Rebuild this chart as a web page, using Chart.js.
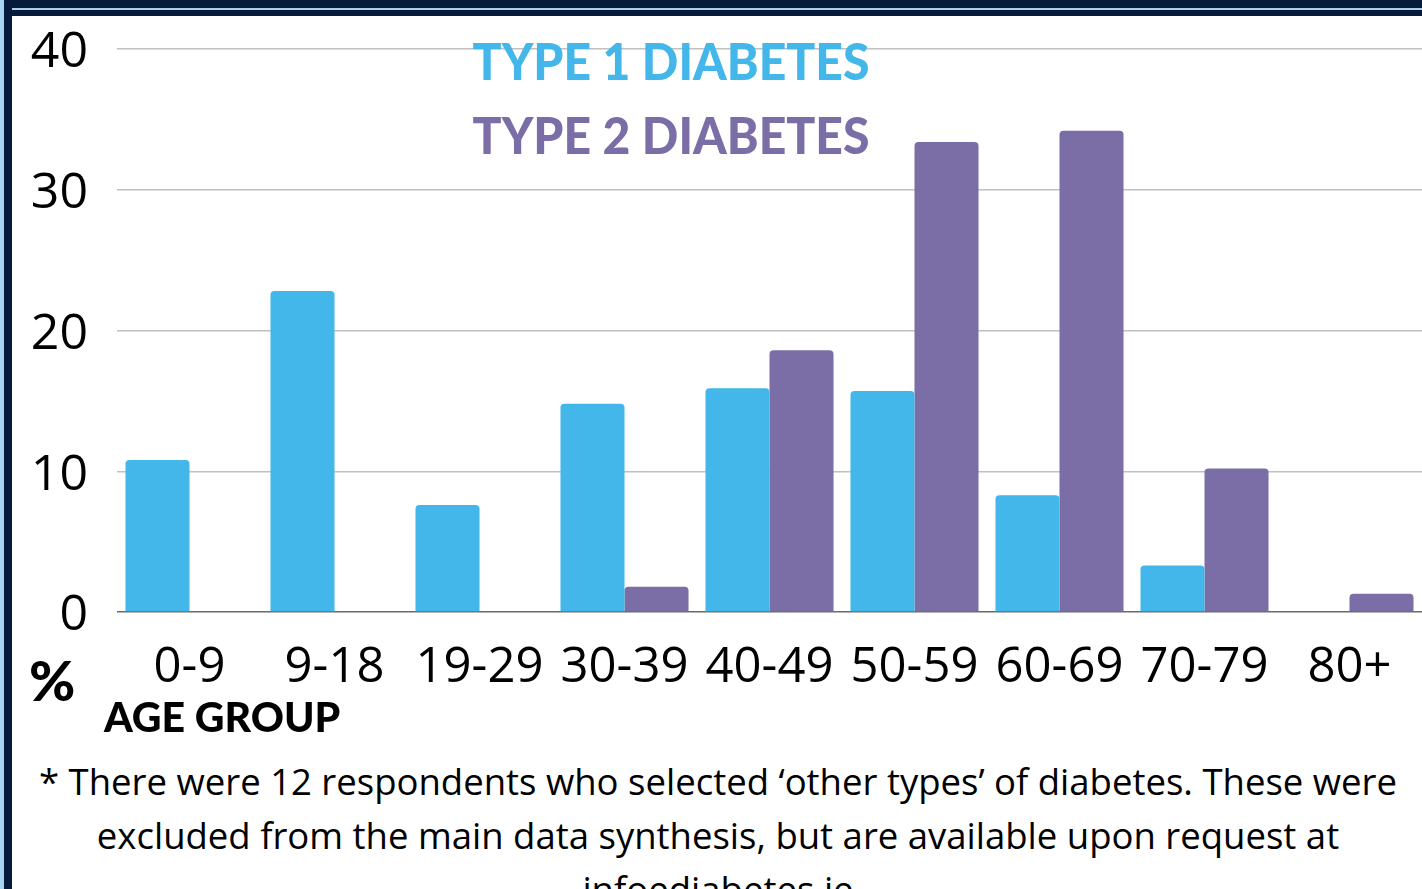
<!DOCTYPE html>
<html>
<head>
<meta charset="utf-8">
<script src="https://cdn.jsdelivr.net/npm/chart.js@4/dist/chart.umd.min.js"></script>
<style>
    html, body { margin: 0; padding: 0; background: #ffffff; }
    body { width: 1422px; height: 889px; position: relative; overflow: hidden; font-family: "Open Sans", sans-serif; }
    .frameTop { position: absolute; left: 0; top: 0; width: 1422px; height: 16px; background: #061a3b; }
    .frameTop .line { position: absolute; left: 0; top: 8px; width: 100%; height: 2px; background: #a9cdea; }
    .frameLeft { position: absolute; left: 0; top: 0; width: 12px; height: 889px; background: #061a3b; }
    .frameLeft .strip { position: absolute; left: 0; top: 0; width: 4px; height: 100%; background: #a8d3f1; }
    #chartBox { position: absolute; left: 0; top: 0; width: 1422px; height: 720px; }
    .legendText { position: absolute; left: 371px; width: 600px; text-align: center; font-family: "Lato", sans-serif; font-weight: 900; font-size: 51px; line-height: 51px; white-space: nowrap; transform: scaleX(0.943); transform-origin: center; }
    #type1 { top: 35px; color: #43b7e9; }
    #type2 { top: 109px; color: #7b6ea6; }
    #pct { position: absolute; left: 29px; top: 652px; font-family: "Lato", sans-serif; font-weight: 900; font-size: 56px; line-height: 56px; color: #000; }
    #axisTitle { position: absolute; left: 104px; top: 696px; font-family: "Lato", sans-serif; font-weight: 900; font-size: 41px; line-height: 41px; color: #000; white-space: nowrap; }
    #note { position: absolute; left: 14px; width: 1408px; top: 754px; text-align: center; font-family: "Open Sans", sans-serif; font-size: 36.5px; line-height: 54px; color: #000; white-space: nowrap; }
</style>
</head>
<body>
<div class="frameTop"><div class="line"></div></div>
<div class="frameLeft"><div class="strip"></div></div>
<div id="chartBox"><canvas id="ageChart"></canvas></div>
<div class="legendText" id="type1">TYPE 1 DIABETES</div>
<div class="legendText" id="type2">TYPE 2 DIABETES</div>
<div id="pct">%</div>
<div id="axisTitle">AGE GROUP</div>
<div id="note">* There were 12 respondents who selected ‘other types’ of diabetes. These were<br>excluded from the main data synthesis, but are available upon request at<br>infoediabetes.ie</div>

<script>
    const ageGroups = ["0-9", "9-18", "19-29", "30-39", "40-49", "50-59", "60-69", "70-79", "80+"];
    const type1Values = [10.8, 22.8, 7.6, 14.8, 15.9, 15.7, 8.3, 3.3, 0];
    const type2Values = [0, 0, 0, 1.8, 18.6, 33.4, 34.2, 10.2, 1.3];
    const yTicks = [0, 10, 20, 30, 40];

    const ctx = document.getElementById("ageChart").getContext("2d");
    window.ageChart = new Chart(ctx, {
        type: "bar",
        data: {
            labels: ageGroups,
            datasets: [
                {
                    label: "Type 1 Diabetes",
                    data: type1Values,
                    backgroundColor: "#43b7e9",
                    borderRadius: 4
                },
                {
                    label: "Type 2 Diabetes",
                    data: type2Values,
                    backgroundColor: "#7b6ea6",
                    borderRadius: 4
                }
            ]
        },
        options: {
            responsive: true,
            maintainAspectRatio: false,
            animation: false,
            layout: {
                padding: { top: 49, right: 0, bottom: 28, left: 0 }
            },
            datasets: {
                bar: {
                    categoryPercentage: 0.883,
                    barPercentage: 1.0
                }
            },
            plugins: {
                legend: { display: false },
                title: { display: false },
                tooltip: { enabled: false }
            },
            scales: {
                x: {
                    grid: { display: false, drawTicks: false },
                    border: { display: false },
                    ticks: {
                        color: "#000",
                        padding: 27,
                        maxRotation: 0,
                        autoSkip: false,
                        font: { family: "Open Sans", size: 49 }
                    },
                    afterFit: function (scale) { scale.height = 80; }
                },
                y: {
                    min: 0,
                    max: 40,
                    afterBuildTicks: function (scale) {
                        scale.ticks = yTicks.map(v => ({ value: v }));
                    },
                    grid: {
                        drawTicks: true,
                        tickLength: 29,
                        tickColor: "rgba(0,0,0,0)",
                        lineWidth: 1.5,
                        color: function (c) { return c.tick && c.tick.value === 0 ? "#6b6b6b" : "#c0c0c0"; }
                    },
                    border: { display: false },
                    ticks: {
                        color: "#000",
                        padding: 0,
                        labelOffset: 4,
                        font: { family: "Open Sans", size: 50 }
                    },
                    afterFit: function (scale) { scale.width = 117; }
                }
            }
        }
    });
</script>
</body>
</html>
